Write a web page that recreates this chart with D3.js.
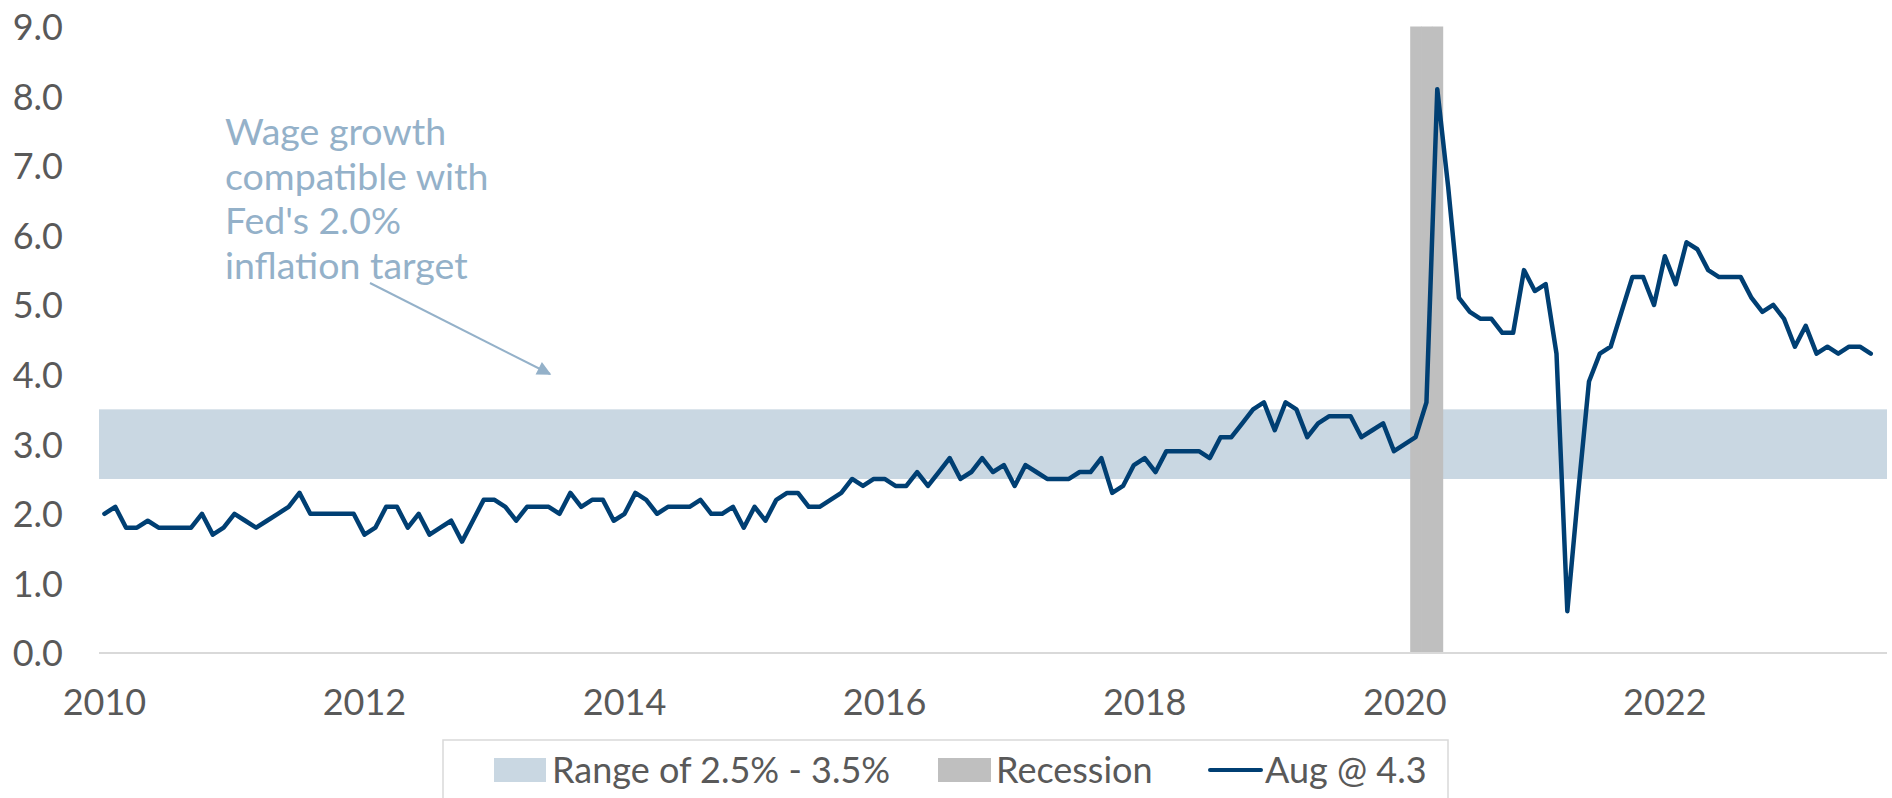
<!DOCTYPE html>
<html>
<head>
<meta charset="utf-8">
<script src="https://cdn.jsdelivr.net/npm/d3@7"></script>
<style>
    body { margin: 0; background: #fff; }
    svg { display: block; font-family: Lato, "Open Sans", sans-serif; }
</style>
</head>
<body>
<svg id="chart" width="1892" height="798"></svg>
<script>
// average hourly earnings, y/y % change, one array per year
const wage2010 = [2.0, 2.1, 1.8, 1.8, 1.9, 1.8, 1.8, 1.8, 1.8, 2.0, 1.7, 1.8];
const wage2011 = [2.0, 1.9, 1.8, 1.9, 2.0, 2.1, 2.3, 2.0, 2.0, 2.0, 2.0, 2.0];
const wage2012 = [1.7, 1.8, 2.1, 2.1, 1.8, 2.0, 1.7, 1.8, 1.9, 1.6, 1.9, 2.2];
const wage2013 = [2.2, 2.1, 1.9, 2.1, 2.1, 2.1, 2.0, 2.3, 2.1, 2.2, 2.2, 1.9];
const wage2014 = [2.0, 2.3, 2.2, 2.0, 2.1, 2.1, 2.1, 2.2, 2.0, 2.0, 2.1, 1.8];
const wage2015 = [2.1, 1.9, 2.2, 2.3, 2.3, 2.1, 2.1, 2.2, 2.3, 2.5, 2.4, 2.5];
const wage2016 = [2.5, 2.4, 2.4, 2.6, 2.4, 2.6, 2.8, 2.5, 2.6, 2.8, 2.6, 2.7];
const wage2017 = [2.4, 2.7, 2.6, 2.5, 2.5, 2.5, 2.6, 2.6, 2.8, 2.3, 2.4, 2.7];
const wage2018 = [2.8, 2.6, 2.9, 2.9, 2.9, 2.9, 2.8, 3.1, 3.1, 3.3, 3.5, 3.6];
const wage2019 = [3.2, 3.6, 3.5, 3.1, 3.3, 3.4, 3.4, 3.4, 3.1, 3.2, 3.3, 2.9];
const wage2020 = [3.0, 3.1, 3.6, 8.1, 6.7, 5.1, 4.9, 4.8, 4.8, 4.6, 4.6, 5.5];
const wage2021 = [5.2, 5.3, 4.3, 0.6, 2.3, 3.9, 4.3, 4.4, 4.9, 5.4, 5.4, 5.0];
const wage2022 = [5.7, 5.3, 5.9, 5.8, 5.5, 5.4, 5.4, 5.4, 5.1, 4.9, 5.0, 4.8];
const wage2023 = [4.4, 4.7, 4.3, 4.4, 4.3, 4.4, 4.4, 4.3];

const rangeLow = 2.5, rangeHigh = 3.5;
const recessionMonths = ["2020-02", "2020-03", "2020-04"];
const yTicks = [0, 1, 2, 3, 4, 5, 6, 7, 8, 9];
const xLabelYears = [2010, 2012, 2014, 2016, 2018, 2020, 2022];
const legendLabels = ["Range of 2.5% - 3.5%", "Recession", "Aug @ 4.3"];
const annotationLines = ["Wage growth", "compatible with", "Fed's 2.0%", "inflation target"];

const values = [].concat(wage2010, wage2011, wage2012, wage2013, wage2014, wage2015, wage2016,
    wage2017, wage2018, wage2019, wage2020, wage2021, wage2022, wage2023);

// category axis runs one month past the last data point
const fmtMonth = d3.timeFormat("%Y-%m");
const months = d3.timeMonth.range(new Date(2010, 0, 1), new Date(2023, 9, 1)).map(fmtMonth);
const data = values.map((v, i) => ({month: months[i], value: v}));

const plotLeft = 99, plotRight = 1887, plotTop = 26.5, plotBottom = 653;

const lineColour = "#003f73",
    bandColour = "#c9d7e2",
    recessionColour = "#bfbfbf",
    textColour = "#595959",
    noteColour = "#94b1c9";

const svg = d3.select("#chart");

const x = d3.scaleBand().domain(months).range([plotLeft, plotRight]).padding(0);
const y = d3.scaleLinear().domain([0, 9]).range([plotBottom, plotTop]);
const cx = (m) => x(m) + x.bandwidth() / 2;

//range band
svg.append("rect")
    .attr("x", plotLeft)
    .attr("width", plotRight - plotLeft)
    .attr("y", y(rangeHigh))
    .attr("height", y(rangeLow) - y(rangeHigh))
    .attr("fill", bandColour);

//recession bars
svg.append("g")
    .selectAll("rect")
    .data(recessionMonths)
    .join("rect")
    .attr("x", (d) => x(d))
    .attr("width", x.bandwidth() + 0.5)
    .attr("y", y(9))
    .attr("height", y(0) - y(9))
    .attr("fill", recessionColour);

//zero line
svg.append("line")
    .attr("x1", plotLeft).attr("x2", plotRight)
    .attr("y1", y(0)).attr("y2", y(0))
    .attr("stroke", "#d9d9d9")
    .attr("stroke-width", 2);

//y axis
const yAxis = svg.append("g")
    .attr("transform", "translate(63,0)")
    .call(d3.axisLeft(y).tickValues(yTicks).tickFormat(d3.format(".1f")).tickSize(0).tickPadding(0));
yAxis.select(".domain").remove();
yAxis.selectAll("text")
    .attr("fill", textColour)
    .attr("font-size", 36)
    .attr("font-family", "Lato")
    .attr("dy", "0.36em");

//x axis
const xAxis = svg.append("g")
    .attr("transform", "translate(0," + y(0) + ")")
    .call(d3.axisBottom(x)
        .tickValues(xLabelYears.map((yr) => yr + "-01"))
        .tickFormat((d) => d.slice(0, 4))
        .tickSize(0).tickPadding(0));
xAxis.select(".domain").remove();
xAxis.selectAll("text")
    .attr("fill", textColour)
    .attr("font-size", 36)
    .attr("font-family", "Lato")
    .attr("dy", null)
    .attr("y", 62);

//wage line
const line = d3.line()
    .x((d) => cx(d.month))
    .y((d) => y(d.value));

svg.append("path")
    .datum(data)
    .attr("fill", "none")
    .attr("stroke", lineColour)
    .attr("stroke-width", 4.5)
    .attr("stroke-linejoin", "round")
    .attr("stroke-linecap", "round")
    .attr("d", line);

//annotation
svg.append("defs").append("marker")
    .attr("id", "arrow")
    .attr("viewBox", "0 0 10 10")
    .attr("refX", 9).attr("refY", 5)
    .attr("markerWidth", 8).attr("markerHeight", 7)
    .attr("markerUnits", "strokeWidth")
    .attr("orient", "auto")
    .append("path")
    .attr("d", "M0,0 L10,5 L0,10 z")
    .attr("fill", noteColour);

svg.append("text")
    .attr("x", 225)
    .attr("y", 145)
    .attr("fill", noteColour)
    .attr("font-size", 37.5)
    .attr("font-family", "Lato")
    .selectAll("tspan")
    .data(annotationLines)
    .join("tspan")
    .attr("x", 225)
    .attr("dy", (d, i) => (i === 0 ? 0 : 44.7))
    .text((d) => d);

svg.append("line")
    .attr("x1", 370).attr("y1", 283)
    .attr("x2", 550).attr("y2", 374)
    .attr("stroke", noteColour)
    .attr("stroke-width", 2)
    .attr("marker-end", "url(#arrow)");

//legend
svg.append("rect")
    .attr("x", 443).attr("y", 740)
    .attr("width", 1005).attr("height", 90)
    .attr("fill", "white")
    .attr("stroke", "#d9d9d9")
    .attr("stroke-width", 1.5);

const legend = svg.append("g").attr("font-family", "Lato").attr("font-size", 36).attr("fill", textColour);

legend.append("rect").attr("x", 494).attr("y", 758).attr("width", 52).attr("height", 24).attr("fill", bandColour);
legend.append("rect").attr("x", 938).attr("y", 758).attr("width", 53).attr("height", 24).attr("fill", recessionColour);
legend.append("line")
    .attr("x1", 1210).attr("x2", 1261)
    .attr("y1", 770).attr("y2", 770)
    .attr("stroke", lineColour).attr("stroke-width", 4)
    .attr("stroke-linecap", "round");

legend.selectAll("text")
    .data(legendLabels)
    .join("text")
    .attr("x", (d, i) => [552, 996, 1265][i])
    .attr("y", 783)
    .text((d) => d);
</script>
</body>
</html>
